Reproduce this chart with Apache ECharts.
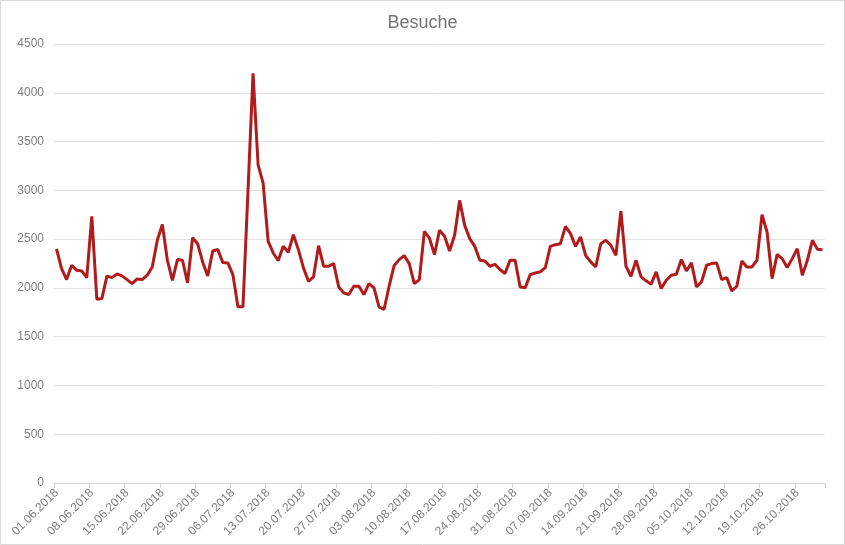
<!DOCTYPE html>
<html>
<head>
<meta charset="utf-8">
<script src="https://cdn.jsdelivr.net/npm/echarts@6/dist/echarts.min.js"></script>
<style>
  html, body { margin: 0; padding: 0; background: #fff; }
  #chart { width: 845px; height: 545px; }
</style>
</head>
<body>
<div id="chart"></div>
<script>
const titleText = 'Besuche';
const monthDays = [['06', 30], ['07', 31], ['08', 31], ['09', 30], ['10', 31]];
const year = '2018';

const visitsJune = [2400,2198,2085,2232,2180,2174,2105,2733,1884,1890,2120,2105,2143,2123,2085,2044,2092,2085,2130,2215,2488,2651,2283,2078,2290,2283,2051,2515,2453,2266];
const visitsJuly = [2123,2378,2395,2259,2256,2136,1806,1806,3000,4200,3262,3074,2477,2358,2280,2426,2365,2546,2392,2205,2068,2113,2433,2222,2222,2249,2010,1949,1932,2017,2017];
const visitsAug  = [1932,2044,2000,1806,1778,2017,2228,2290,2331,2249,2044,2085,2580,2511,2341,2590,2529,2378,2539,2897,2641,2505,2426,2283,2276,2222,2242,2188,2147,2283,2283];
const visitsSep  = [2010,2000,2136,2153,2164,2208,2426,2443,2453,2631,2556,2426,2522,2334,2266,2215,2453,2488,2436,2334,2788,2222,2119,2283,2113,2072,2038,2164,1993,2078];
const visitsOct  = [2130,2140,2290,2174,2256,2010,2061,2232,2249,2256,2085,2105,1969,2017,2276,2215,2215,2283,2750,2573,2095,2344,2300,2208,2300,2402,2130,2283,2488,2395,2392];

const yTicks = [0, 500, 1000, 1500, 2000, 2500, 3000, 3500, 4000, 4500];

const categories = [];
monthDays.forEach(([m, n]) => {
  for (let d = 1; d <= n; d++) categories.push((d < 10 ? '0' + d : '' + d) + '.' + m + '.' + year);
});
const values = [].concat(visitsJune, visitsJuly, visitsAug, visitsSep, visitsOct);

const chart = echarts.init(document.getElementById('chart'), null, { renderer: 'canvas' });
chart.setOption({
  animation: false,
  backgroundColor: '#ffffff',
  title: {
    text: titleText,
    left: 'center',
    top: 9,
    textStyle: { fontFamily: 'Liberation Sans, Arial, sans-serif', fontSize: 18, fontWeight: 'normal', color: '#757575' }
  },
  graphic: [{
    type: 'rect',
    shape: { x: 0.5, y: 0.5, width: 844, height: 544 },
    style: { fill: 'none', stroke: '#d9d9d9', lineWidth: 1 },
    silent: true
  }],
  grid: { left: 54, right: 20, top: 44, bottom: 62, containLabel: false },
  xAxis: {
    type: 'category',
    data: categories,
    boundaryGap: true,
    axisLine: { lineStyle: { color: '#d6d6d6', width: 1 } },
    axisTick: { show: true, interval: 6, length: 5, lineStyle: { color: '#d6d6d6' } },
    axisLabel: {
      interval: 6,
      rotate: 45,
      margin: 8,
      fontFamily: 'Liberation Sans, Arial, sans-serif',
      fontSize: 12,
      color: '#808080'
    },
    splitLine: { show: false }
  },
  yAxis: {
    type: 'value',
    min: yTicks[0],
    max: yTicks[yTicks.length - 1],
    interval: 500,
    axisLine: { show: false },
    axisTick: { show: false },
    axisLabel: {
      margin: 10,
      formatter: v => String(v),
      fontFamily: 'Liberation Sans, Arial, sans-serif',
      fontSize: 12,
      color: '#808080'
    },
    splitLine: { lineStyle: { color: '#e3e3e3', width: 1 } }
  },
  series: [{
    name: titleText,
    type: 'line',
    data: values,
    symbol: 'none',
    smooth: false,
    lineStyle: { color: '#b11b1b', width: 3 },
    itemStyle: { color: '#b11b1b' }
  }]
});
</script>
</body>
</html>
